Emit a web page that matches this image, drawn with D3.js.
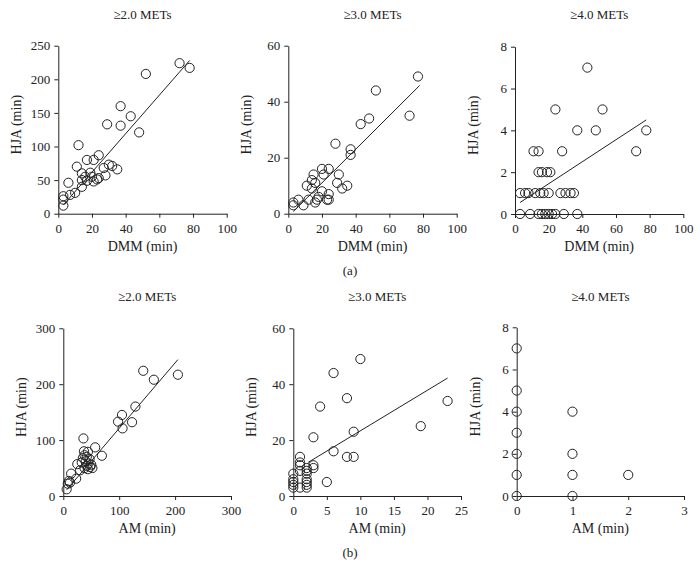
<!DOCTYPE html>
<html><head><meta charset="utf-8">
<script src="https://cdn.jsdelivr.net/npm/d3@7"></script>
<style>
body{margin:0;background:#fff;}
svg text{font-family:"Liberation Serif","Times New Roman","DejaVu Serif",serif !important;fill:#222;}
</style></head>
<body><svg id="c" width="700" height="581"></svg>
<script>
// ---- Data ----
const panelTitles = ["≥2.0 METs","≥3.0 METs","≥4.0 METs"];
const xLabelA = "DMM (min)", xLabelB = "AM (min)", yLabel = "HJA (min)";

const dmm2 = [[72,224],[78,217],[52,208],[37,160],[43,145],[29,133],[37,131],[48,121],[12,102],[24,87],[17,80],[21,80],[11,70],[30,73],[32,71],[27,68],[35,66],[14,60],[19,61],[16,55],[20,55],[28,57],[24,53],[23,51],[21,48],[14,50],[17,49],[6,46],[14,40],[10,31],[7,28],[3,26],[3,21],[3,12]];
const dmm3 = [[77,49],[52,44],[48,34],[72,35],[43,32],[28,25],[37,23],[37,21],[20,16],[24,16],[15,14],[21,14],[30,14],[14,12],[16,11],[11,10],[29,11],[35,10],[32,9],[14,9],[12,5],[20,8],[24,7],[18,6],[23,5],[24,5],[16,4],[6,5],[3,4],[3,3],[9,3],[17,5]];
const dmm4 = [[43,7],[24,5],[52,5],[37,4],[48,4],[78,4],[72,3],[11,3],[14,3],[28,3],[14,2],[16,2],[19,2],[21,2],
  [3,1],[6,1],[8,1],[12,1],[15,1],[17,1],[20,1],[27,1],[30,1],[33,1],[35,1],
  [3,0],[9,0],[14,0],[16,0],[18,0],[20,0],[22,0],[24,0],[29,0],[37,0]];
const am2 = [[143,224],[205,217],[162,208],[129,160],[105,145],[98,133],[123,132],[106,121],[36,103],[57,87],[37,80],[44,79],[69,72],[38,73],[42,70],[35,68],[47,66],[40,62],[33,60],[45,58],[25,57],[50,56],[42,54],[48,52],[38,50],[52,50],[44,48],[30,46],[14,40],[23,31],[10,27],[12,24],[8,22],[6,12]];
const am3 = [[10,49],[6,44],[8,35],[23,34],[4,32],[19,25],[9,23],[3,21],[6,16],[8,14],[9,14],[5,5],[3,11],[3,10],[1,14],[1,12],[1,11],[1,9],[1,3],[0,8],[0,6],[0,5],[0,4],[0,3],[2,10],[2,9],[2,8],[2,6],[2,5],[2,4],[2,3]];
const am4 = [[0,7],[0,5],[0,4],[0,3],[0,2],[0,1],[0,0],[1,4],[1,2],[1,1],[1,0],[2,1]];

// regression line endpoints (data units): [x0,y0,x1,y1]
const fitDmm2 = [3,13,78,228];
const fitDmm3 = [3,0.8,78,45.8];
const fitDmm4 = [3,0.55,78,4.5];
const fitAm2 = [6,11,205,244];
const fitAm3 = [2.2,12,23,42.2];
const fitAm4 = null;

const xDomA = [0,100], xTicksA = [0,20,40,60,80,100];
const xDomB2 = [0,300], xTicksB2 = [0,100,200,300];
const xDomB3 = [0,25], xTicksB3 = [0,5,10,15,20,25];
const xDomB4 = [0,3], xTicksB4 = [0,1,2,3];
const yDom2A = [0,250], yTicks2A = [0,50,100,150,200,250];
const yDom2B = [0,300], yTicks2B = [0,100,200,300];
const yDom3 = [0,60], yTicks3 = [0,20,40,60];
const yDom4 = [0,8], yTicks4 = [0,2,4,6,8];

// ---- Layout ----
const panels = [
  {pts:dmm2, fit:fitDmm2, xd:xDomA, xt:xTicksA, yd:yDom2A, yt:yTicks2A, xr:[58.3,226.7], yr:[213.7,45.7], title:panelTitles[0], xl:xLabelA, row:0},
  {pts:dmm3, fit:fitDmm3, xd:xDomA, xt:xTicksA, yd:yDom3, yt:yTicks3, xr:[288.3,456.7], yr:[213.7,45.7], title:panelTitles[1], xl:xLabelA, row:0},
  {pts:dmm4, fit:fitDmm4, xd:xDomA, xt:xTicksA, yd:yDom4, yt:yTicks4, xr:[515,683.3], yr:[214,46.7], title:panelTitles[2], xl:xLabelA, row:0},
  {pts:am2, fit:fitAm2, xd:xDomB2, xt:xTicksB2, yd:yDom2B, yt:yTicks2B, xr:[63.3,231], yr:[496,328.3], title:panelTitles[0], xl:xLabelB, row:1},
  {pts:am3, fit:fitAm3, xd:xDomB3, xt:xTicksB3, yd:yDom3, yt:yTicks3, xr:[293.3,461], yr:[496,328.3], title:panelTitles[1], xl:xLabelB, row:1},
  {pts:am4, fit:fitAm4, xd:xDomB4, xt:xTicksB4, yd:yDom4, yt:yTicks4, xr:[516.7,684], yr:[496,327.3], title:panelTitles[2], xl:xLabelB, row:1}
];
const svg = d3.select("#c");
const titleY = [19, 301];
const FONT = "Liberation Serif, DejaVu Serif, serif";
const fmt = d3.format("d");

panels.forEach(p=>{
  const x = d3.scaleLinear().domain(p.xd).range(p.xr);
  const y = d3.scaleLinear().domain(p.yd).range(p.yr);
  const g = svg.append("g");
  const xa = g.append("g").attr("transform",`translate(0,${p.yr[0]})`)
    .call(d3.axisBottom(x).tickValues(p.xt).tickFormat(fmt).tickSize(4).tickSizeOuter(0).tickPadding(6));
  const ya = g.append("g").attr("transform",`translate(${p.xr[0]},0)`)
    .call(d3.axisLeft(y).tickValues(p.yt).tickFormat(fmt).tickSize(4).tickSizeOuter(0).tickPadding(4));
  [xa,ya].forEach(a=>{
    a.attr("font-family",FONT);
    a.selectAll("path,line").attr("stroke","#222").attr("stroke-width",1);
    a.selectAll("text").attr("font-size",13).attr("fill","#222").style("font-family",FONT);
  });
  if(p.fit){
    g.append("line").attr("x1",x(p.fit[0])).attr("y1",y(p.fit[1]))
      .attr("x2",x(p.fit[2])).attr("y2",y(p.fit[3])).attr("stroke","#222").attr("stroke-width",1);
  }
  g.selectAll("circle.pt").data(p.pts).join("circle").attr("class","pt")
    .attr("cx",d=>x(d[0])).attr("cy",d=>y(d[1])).attr("r",4.6)
    .attr("fill","none").attr("stroke","#222").attr("stroke-width",1);
  const cx = (p.xr[0]+p.xr[1])/2;
  g.append("text").attr("x",cx).attr("y",titleY[p.row]).attr("text-anchor","middle")
    .attr("font-size",13).style("font-family",FONT).text(p.title);
  g.append("text").attr("x",cx).attr("y",p.yr[0]+37).attr("text-anchor","middle")
    .attr("font-size",14).style("font-family",FONT).text(p.xl);
  const ym = (p.yr[0]+p.yr[1])/2 - 5;
  g.append("text").attr("transform",`translate(${p.xr[0]-37},${ym}) rotate(-90)`)
    .attr("text-anchor","middle").attr("font-size",14).style("font-family",FONT).text(yLabel);
});
svg.append("text").attr("x",350).attr("y",275).attr("text-anchor","middle").attr("font-size",13).style("font-family",FONT).text("(a)");
svg.append("text").attr("x",350).attr("y",557).attr("text-anchor","middle").attr("font-size",13).style("font-family",FONT).text("(b)");
</script></body></html>
